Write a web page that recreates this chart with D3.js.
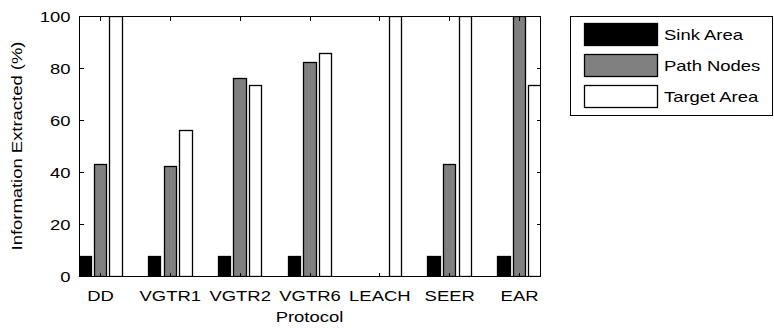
<!DOCTYPE html>
<html>
<head>
<meta charset="utf-8">
<script src="https://cdn.jsdelivr.net/npm/d3@7"></script>
<style>
  body { margin: 0; background: #fff; }
  svg { display: block; }
  text { font-family: "Liberation Sans", Arial, sans-serif; font-size: 15px; fill: #000; }
</style>
</head>
<body>
<svg id="chart"></svg>
<script>
// data
var protocols = ['DD', 'VGTR1', 'VGTR2', 'VGTR6', 'LEACH', 'SEER', 'EAR'];
var seriesNames = ['Sink Area', 'Path Nodes', 'Target Area'];
var sinkArea = [7.7, 7.7, 7.7, 7.7, 0, 7.7, 7.7];
var pathNodes = [43, 42.3, 76, 82.4, 0, 43, 100];
var targetArea = [100, 56, 73.3, 85.9, 100, 100, 73.3];
var yTicks = [0, 20, 40, 60, 80, 100];

var seriesColors = ['#000000', '#808080', '#ffffff'];
var series = [sinkArea, pathNodes, targetArea];

var width = 774,
    height = 332,
    plotL = 79, plotR = 540, plotT = 16, plotB = 276,
    sx = 1.23; // text in the picture is stretched sideways

var svg = d3.select('#chart')
    .attr('width', width)
    .attr('height', height);

// x is the group index like matlab bar(), xlim [0.7 7.3]
var x = d3.scaleLinear().domain([0.7, 7.3]).range([plotL, plotR]);
var y = d3.scaleLinear().domain([0, 100]).range([plotB, plotT]);

var slot = 0.6667 / 3,
    barW = slot * 0.8;

svg.append('clipPath').attr('id', 'plotclip')
  .append('rect')
    .attr('x', plotL).attr('y', plotT)
    .attr('width', plotR - plotL).attr('height', plotB - plotT);

var plot = svg.append('g').attr('clip-path', 'url(#plotclip)');

function barX0(i, s) { return Math.round(x(i + 1 + (s - 1) * slot - barW / 2)); }
function barX1(i, s) { return Math.round(x(i + 1 + (s - 1) * slot + barW / 2)); }

series.forEach(function (vals, s) {
    plot.selectAll('rect.s' + s)
        .data(vals)
        .enter().append('rect')
        .attr('class', 's' + s)
        .attr('x', function (d, i) { return barX0(i, s) + 0.5; })
        .attr('width', function (d, i) { return barX1(i, s) - barX0(i, s); })
        .attr('y', function (d) { return Math.round(y(d)) + 0.5; })
        .attr('height', function (d) { return Math.round(y(0)) - Math.round(y(d)); })
        .style('fill', seriesColors[s])
        .style('stroke', '#000')
        .style('stroke-width', 1.3)
        .style('display', function (d) { return d > 0 ? null : 'none'; });
});

// axes (ticks inside, like matlab)
var idx = protocols.map(function (p, i) { return i + 1; });

var xAxis = svg.append('g')
    .attr('transform', 'translate(0,' + (plotB + 0.5) + ')')
    .call(d3.axisBottom(x).tickValues(idx).tickSize(-4).tickSizeOuter(0)
        .tickFormat(function (d) { return protocols[d - 1]; }));
var xTop = svg.append('g')
    .attr('transform', 'translate(0,' + (plotT + 0.5) + ')')
    .call(d3.axisTop(x).tickValues(idx).tickSize(-4).tickSizeOuter(0).tickFormat(''));
var yAxis = svg.append('g')
    .attr('transform', 'translate(' + (plotL + 0.5) + ',0)')
    .call(d3.axisLeft(y).tickValues(yTicks).tickSize(-4).tickSizeOuter(0));
var yRight = svg.append('g')
    .attr('transform', 'translate(' + (plotR + 0.5) + ',0)')
    .call(d3.axisRight(y).tickValues(yTicks).tickSize(-4).tickSizeOuter(0).tickFormat(''));

[xAxis, xTop, yAxis, yRight].forEach(function (a) {
    a.attr('font-family', null).attr('font-size', null);
    a.select('.domain').remove();
    a.selectAll('line').style('stroke', '#000').style('shape-rendering', 'crispEdges');
    a.selectAll('text').attr('fill', null);
});

xAxis.selectAll('text')
    .attr('y', null).attr('dy', null)
    .attr('x', 0)
    .attr('transform', 'translate(0,24) scale(' + sx + ',1)');
yAxis.selectAll('text')
    .attr('x', -9 / sx).attr('dy', '0.35em')
    .attr('transform', 'scale(' + sx + ',1)');

// frame
svg.append('rect')
    .attr('x', plotL + 0.5).attr('y', plotT + 0.5)
    .attr('width', plotR - plotL).attr('height', plotB - plotT)
    .style('fill', 'none').style('stroke', '#000').style('shape-rendering', 'crispEdges');

// axis titles
svg.append('text')
    .attr('transform', 'translate(' + ((plotL + plotR) / 2) + ',322) scale(' + sx + ',1)')
    .attr('text-anchor', 'middle')
    .text('Protocol');
svg.append('text')
    .attr('transform', 'translate(22,' + ((plotT + plotB) / 2) + ') rotate(-90) scale(' + sx + ',1)')
    .attr('text-anchor', 'middle')
    .text('Information Extracted (%)');

// legend
var legend = svg.append('g');
legend.append('rect')
    .attr('x', 570.5).attr('y', 16.5)
    .attr('width', 202).attr('height', 99)
    .style('fill', '#fff').style('stroke', '#000').style('shape-rendering', 'crispEdges');

var rowY = [23, 54, 85];
var items = legend.selectAll('g.item')
    .data(seriesNames)
    .enter().append('g')
    .attr('class', 'item')
    .attr('transform', function (d, i) { return 'translate(0,' + rowY[i] + ')'; });
items.append('rect')
    .attr('x', 584.5).attr('y', 0.5)
    .attr('width', 73).attr('height', 22)
    .style('fill', function (d, i) { return seriesColors[i]; })
    .style('stroke', '#000').style('stroke-width', 1.3);
items.append('text')
    .attr('transform', 'translate(664,12) scale(' + sx + ',1)')
    .attr('dy', '0.35em')
    .text(function (d) { return d; });
</script>
</body>
</html>
